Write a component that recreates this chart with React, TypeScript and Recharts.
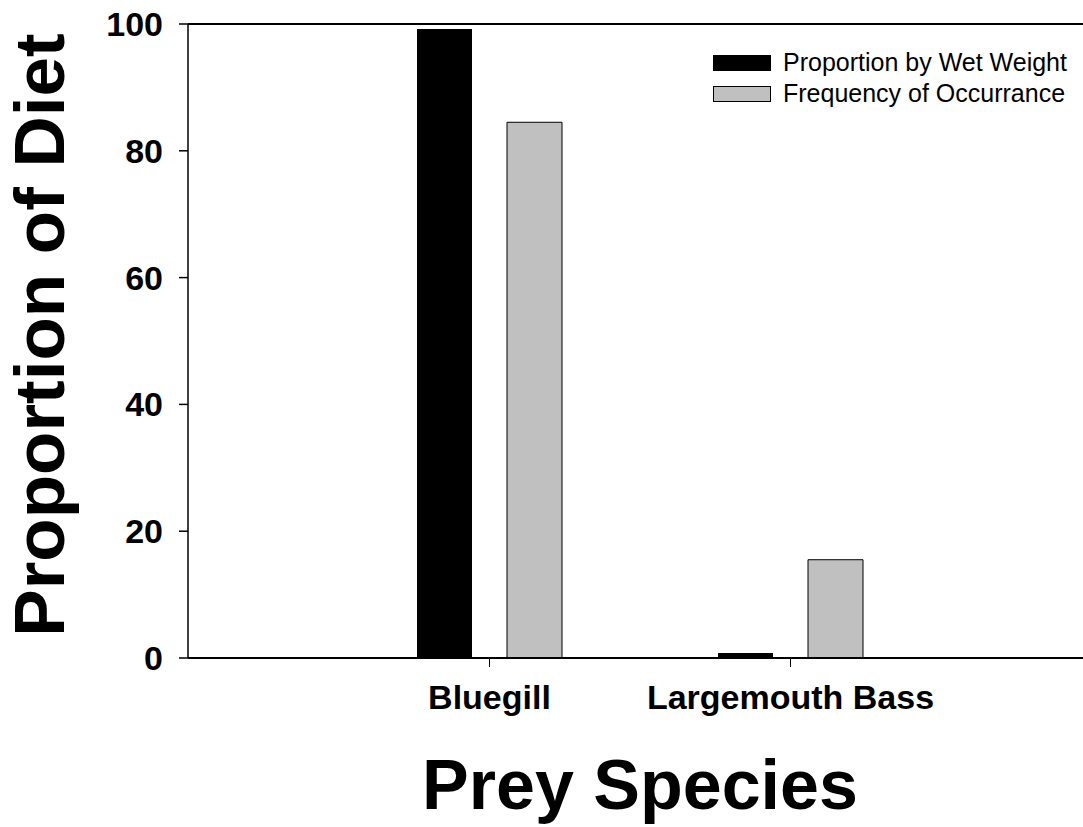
import React from 'react';
import { BarChart, Bar, XAxis, YAxis, ReferenceLine, Legend } from 'recharts';

const species = ['Bluegill', 'Largemouth Bass'];
const wetWeight = [99.2, 0.8];
const frequency = [84.5, 15.5];
const yTicks = [0, 20, 40, 60, 80, 100];
const seriesNames = ['Proportion by Wet Weight', 'Frequency of Occurrance'];
const seriesFills = ['#000000', '#c0c0c0'];

const data = species.map((s, i) => ({ species: s, wetWeight: wetWeight[i], frequency: frequency[i] }));

const FONT = '"Liberation Sans", Arial, Helvetica, sans-serif';

const YTitle = (props: any) => {
  const { viewBox } = props;
  const cy = viewBox.y + viewBox.height / 2 - 6;
  const x = 64;
  return (
    <text
      x={x}
      y={cy}
      transform={`rotate(-90, ${x}, ${cy})`}
      textAnchor="middle"
      fontSize={71}
      fontWeight="bold"
      fontFamily={FONT}
      fill="#000"
    >
      Proportion of Diet
    </text>
  );
};

const renderLegend = () => (
  <div style={{ fontFamily: FONT, fontSize: 25, color: '#000' }}>
    {seriesNames.map((n, i) => (
      <div key={n} style={{ display: 'flex', alignItems: 'center', height: 31 }}>
        <div
          style={{
            width: 58,
            height: 16,
            background: seriesFills[i],
            border: '1px solid #000',
            boxSizing: 'border-box',
            marginRight: 12,
          }}
        />
        <span style={{ lineHeight: '31px', whiteSpace: 'nowrap' }}>{n}</span>
      </div>
    ))}
  </div>
);

export default function App() {
  return (
    <div
      style={{
        position: 'absolute',
        left: 0,
        top: 0,
        width: 1083,
        height: 827,
        overflow: 'hidden',
        background: '#fff',
        fontFamily: FONT,
      }}
    >
      <BarChart
        width={1100}
        height={827}
        data={data}
        margin={{ top: 24, right: 8, bottom: 0, left: 0 }}
        barGap={35}
      >
        <XAxis
          dataKey="species"
          height={169}
          interval={0}
          padding={{ left: 151, right: 151 }}
          tickSize={9}
          tickMargin={18}
          axisLine={{ stroke: '#000', strokeWidth: 2 }}
          tickLine={{ stroke: '#000', strokeWidth: 1 }}
          tick={{ fontSize: 34, fontWeight: 'bold', fill: '#000', fontFamily: FONT }}
          label={{
            value: 'Prey Species',
            position: 'insideBottom',
            offset: 18,
            fontSize: 70,
            fontWeight: 'bold',
            fill: '#000',
            fontFamily: FONT,
          }}
        />
        <YAxis
          width={188}
          domain={[0, 100]}
          ticks={yTicks}
          interval={0}
          tickSize={9}
          tickMargin={16}
          axisLine={{ stroke: '#000', strokeWidth: 1.5 }}
          tickLine={{ stroke: '#000', strokeWidth: 1.5 }}
          tick={{ fontSize: 34, fontWeight: 'bold', fill: '#000', fontFamily: FONT }}
          label={<YTitle />}
        />
        <ReferenceLine y={100} stroke="#000" strokeWidth={2} ifOverflow="extendDomain" />
        <Legend
          layout="vertical"
          align="center"
          verticalAlign="middle"
          wrapperStyle={{ top: 47, left: 713, width: 'auto' }}
          content={renderLegend}
        />
        <Bar
          dataKey="wetWeight"
          name={seriesNames[0]}
          fill={seriesFills[0]}
          barSize={55}
          isAnimationActive={false}
        />
        <Bar
          dataKey="frequency"
          name={seriesNames[1]}
          fill={seriesFills[1]}
          stroke="#000"
          strokeWidth={1}
          barSize={55}
          isAnimationActive={false}
        />
      </BarChart>
    </div>
  );
}
